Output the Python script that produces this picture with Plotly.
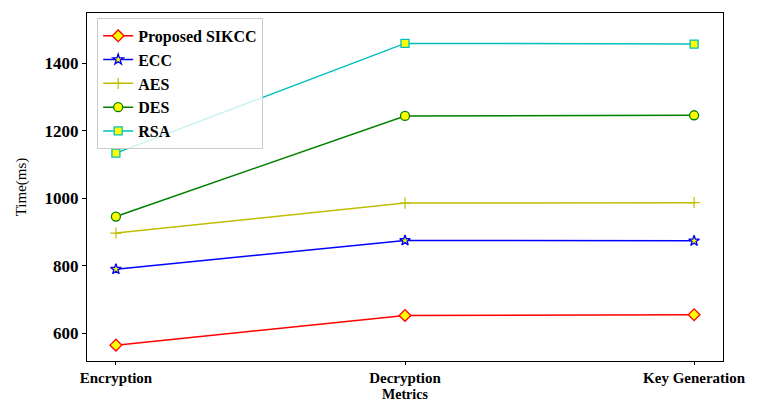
import plotly.graph_objects as go

categories = ["Encryption", "Decryption", "Key Generation"]
sikcc = [565, 653, 655]
ecc = [790, 875, 874]
aes = [897, 986, 987]
des = [946, 1244, 1246]
rsa = [1134, 1459, 1457]

series = [
    ("Proposed SIKCC", sikcc, "red", "diamond", 9),
    ("ECC", ecc, "blue", "star", 8),
    ("AES", aes, "#bfbf00", "cross-thin", 8),
    ("DES", des, "green", "circle", 9),
    ("RSA", rsa, "#00bfbf", "square", 8),
]

x_idx = list(range(len(categories)))
fig = go.Figure()
for name, vals, color, sym, size in series:
    if sym == "cross-thin":
        marker = dict(symbol=sym, size=size, color=color, line=dict(color=color, width=1.2))
    else:
        marker = dict(symbol=sym, size=size, color="yellow", line=dict(color=color, width=1.3))
    fig.add_trace(go.Scatter(x=x_idx, y=vals, mode="lines+markers", name=name,
                             line=dict(color=color, width=1.5), marker=marker))

font_fam = "Liberation Serif"
fig.update_layout(
    width=760, height=403,
    margin=dict(l=87, r=37, t=13, b=42),
    plot_bgcolor="white", paper_bgcolor="white",
    font=dict(family=font_fam, color="black"),
    showlegend=True,
    legend=dict(x=0.016, y=0.986, xanchor="left", yanchor="top",
                bordercolor="#cccccc", borderwidth=1, bgcolor="rgba(255,255,255,0.8)",
                font=dict(family=font_fam, size=16, color="black", weight="bold"),
                tracegroupgap=0, itemwidth=30),
    xaxis=dict(range=[-0.1, 2.1], tickvals=x_idx, ticktext=categories, automargin=False,
               showgrid=False, zeroline=False, showline=True, linecolor="black", linewidth=1,
               mirror=True, ticks="outside", ticklen=3, tickcolor="black",
               tickfont=dict(family=font_fam, size=15, weight="bold")),
    yaxis=dict(range=[518, 1549], tickvals=[600, 800, 1000, 1200, 1400], automargin=False,
               showgrid=False, zeroline=False, showline=True, linecolor="black", linewidth=1,
               mirror=True, ticks="outside", ticklen=4, tickcolor="black",
               tickfont=dict(family=font_fam, size=17, weight="bold"),
               title=dict(text="Time(ms)", font=dict(family=font_fam, size=15), standoff=14)),
    annotations=[dict(text="<b>Metrics</b>", xref="paper", yref="paper", x=0.5, y=-0.1207,
                      xanchor="center", yanchor="bottom", showarrow=False, borderpad=0,
                      font=dict(family=font_fam, size=14, color="black"))],
)
fig.write_html("out.html")
